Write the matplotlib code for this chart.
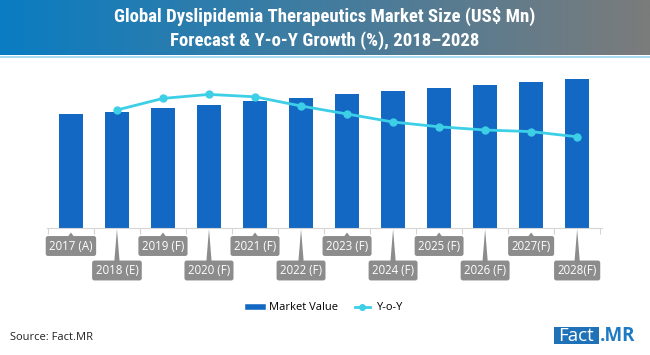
import numpy as np
import matplotlib
matplotlib.use("Agg")
import matplotlib.pyplot as plt
from matplotlib.lines import Line2D
from matplotlib.patches import Rectangle

# chart data (arbitrary units)
years = ["2017 (A)", "2018 (E)", "2019 (F)", "2020 (F)", "2021 (F)", "2022 (F)",
         "2023 (F)", "2024 (F)", "2025 (F)", "2026 (F)", "2027(F)", "2028(F)"]
market_value = [113.7, 116.3, 119.7, 123.3, 126.7, 130.0, 133.7, 136.7, 139.7, 142.7, 145.7, 148.7]
yoy_years = years[1:]
yoy = [2.95, 3.24, 3.34, 3.28, 3.05, 2.85, 2.65, 2.53, 2.45, 2.41, 2.28]

BAR = "#1368c4"
LINE = "#3ccfe6"
GREY = "#8c8c8c"

W, H = 650, 355
fig = plt.figure(figsize=(W / 100, H / 100), dpi=100)

# title banner with gradient
ban = fig.add_axes([0, 1 - 55 / H, 1, 55 / H])
c1 = np.array([0x0a, 0x7d, 0xc2]) / 255
c2 = np.array([0x7b, 0x7b, 0x7b]) / 255
t = np.linspace(0, 1, 256)[None, :, None]
grad = c1 * (1 - t) + c2 * t
ban.imshow(grad, aspect="auto", extent=[0, 1, 0, 1])
ban.set_xlim(0, 1)
ban.set_ylim(0, 1)
ban.axis("off")
title_font = ["Roboto Condensed", "Liberation Sans Narrow", "Roboto", "DejaVu Sans"]
ban.text(0.5, 0.70, "Global Dyslipidemia Therapeutics Market Size (US$ Mn)",
         color="white", ha="center", va="center", fontsize=13.5,
         fontweight="bold", family=title_font)
ban.text(0.5, 0.27, "Forecast & Y-o-Y Growth (%), 2018\u20132028",
         color="white", ha="center", va="center", fontsize=13.5,
         fontweight="bold", family=title_font)
fig.add_artist(Rectangle((0, 1 - 57.5 / H), 1, 2 / H, transform=fig.transFigure,
                         color="#a8daf2", lw=0))

# main axes: data units equal pixels vertically
ax = fig.add_axes([47 / W, 127 / H, 555 / W, 158 / H])
x = np.arange(len(years))
ax.bar(x, market_value, width=0.53, color=BAR, zorder=2)
ax.set_xlim(-0.52, 11.54)
ax.set_ylim(0, 158)
ax.set_yticks([])
for s in ["top", "right", "left"]:
    ax.spines[s].set_visible(False)
ax.spines["bottom"].set_color("#d5d5d5")
ax.set_xticks(np.arange(-0.5, len(years), 1.0))
ax.set_xticklabels([])
ax.tick_params(axis="x", length=4, color="#d5d5d5", width=0.8)

ax2 = ax.twinx()
ax2.set_ylim(0, 158 / 40)
ax2.axis("off")
ax2.plot(x[1:], yoy, color=LINE, lw=2, marker="o", ms=5, zorder=3)

# category labels in grey boxes with pointers
for i, lab in enumerate(years):
    if i % 2 == 0:
        yc = -18
        ax.fill([i - 0.09, i + 0.09, i], [-10, -10, -4.5], color=GREY,
                clip_on=False, lw=0)
    else:
        yc = -42.5
        ax.fill([i - 0.06, i + 0.06, i], [-35, -35, -1], color=GREY,
                clip_on=False, lw=0)
    ax.text(i, yc, lab, ha="center", va="center", fontsize=8.3, color="white",
            family="Open Sans", clip_on=False,
            bbox=dict(boxstyle="round,pad=0.3,rounding_size=0.2", fc=GREY, ec="none"))

# legend
handles = [Line2D([], [], color=BAR, lw=4),
           Line2D([], [], color=LINE, lw=2, marker="o", ms=4)]
fig.legend(handles, ["Market Value", "Y-o-Y"], loc="center",
           bbox_to_anchor=(0.5, 1 - 308 / H), ncol=2, frameon=False,
           prop={"family": "Open Sans", "size": 8}, handlelength=1.4,
           columnspacing=1.5, handletextpad=0.5)

# footer
fig.text(10 / W, 1 - 337 / H, "Source: Fact.MR", ha="left", va="center",
         fontsize=8, family="Open Sans", color="#222222")
fig.add_artist(Rectangle((554 / W, 1 - 344 / H), 45 / W, 17 / H,
                         transform=fig.transFigure, color="#1f72b8", lw=0))
fig.text(576.5 / W, 1 - 336 / H, "Fact", ha="center", va="center", fontsize=13.5,
         family="Open Sans", color="white")
fig.text(600 / W, 1 - 336 / H, ".MR", ha="left", va="center", fontsize=13.5,
         family="Open Sans", fontweight="bold", color="#1f7ac4")

fig.savefig("out.png", dpi=100)
